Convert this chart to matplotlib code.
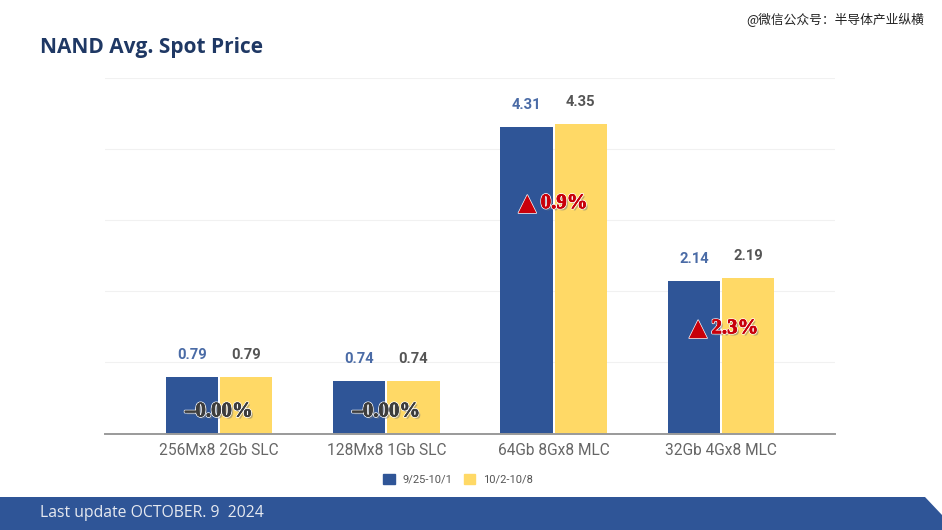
import matplotlib
matplotlib.use("Agg")
import matplotlib.pyplot as plt
import matplotlib.patheffects as pe
from matplotlib.patches import Polygon, Patch
import numpy as np

## === Data === ##

categories = ["256Mx8 2Gb SLC", "128Mx8 1Gb SLC", "64Gb 8Gx8 MLC", "32Gb 4Gx8 MLC"]
week_1 = [0.79, 0.74, 4.31, 2.14]
week_2 = [0.79, 0.74, 4.35, 2.19]
series_names = ["9/25-10/1", "10/2-10/8"]
changes = ["\u20130.00%", "\u20130.00%", "0.9%", "2.3%"]
change_up = [False, False, True, True]
change_y = [0.31, 0.31, 3.24, 1.48]
change_x_shift = [0.0, 0.0, 0.0, 0.02]
y_ticks = [0, 1, 2, 3, 4, 5]

## === Style === ##

W, H = 942, 530
BLUE = "#2f5597"
YELLOW = "#ffd966"
NAVY = "#1f3864"
RED = "#c8000a"

plt.rcParams["font.family"] = ["Roboto", "DejaVu Sans"]


def fx(px):
    return px / W


def fy(px):
    return 1 - px / H


fig = plt.figure(figsize=(W / 100, H / 100), dpi=100, facecolor="white")

## === Chart === ##

ax = fig.add_axes([fx(105), fy(433.5), fx(835) - fx(105), fy(78) - fy(433.5)])
ax.set_xlim(-0.68, 3.68)
ax.set_ylim(0, 5)

x = np.arange(len(categories))
bar_w = 0.312
gap = 0.006

bars_1 = ax.bar(x - bar_w / 2 - gap, week_1, bar_w, color=BLUE, zorder=3)
bars_2 = ax.bar(x + bar_w / 2 + gap, week_2, bar_w, color=YELLOW, zorder=3)

for rect, value in zip(bars_1, week_1):
    ax.annotate(f"{value:.2f}", (rect.get_x() + rect.get_width() / 2, value),
                xytext=(0, 16), textcoords="offset points", ha="center", va="center",
                fontsize=10.6, fontweight="bold", color="#4a6ba6")
for rect, value in zip(bars_2, week_2):
    ax.annotate(f"{value:.2f}", (rect.get_x() + rect.get_width() / 2, value),
                xytext=(0, 16), textcoords="offset points", ha="center", va="center",
                fontsize=10.6, fontweight="bold", color="#555555")

for i, label in enumerate(changes):
    color = RED if change_up[i] else "#3d3d3d"
    shift = 7.5 if change_up[i] else 0
    ax.annotate(label, (x[i] + change_x_shift[i], change_y[i]), xytext=(shift, 0),
                textcoords="offset points", ha="center", va="center",
                fontsize=15, fontweight="bold", zorder=5, family="Liberation Serif",
                color=color,
                path_effects=[
                    pe.SimplePatchShadow(offset=(1.5, -1.5), shadow_rgbFace="#777777", alpha=0.5),
                    pe.withStroke(linewidth=1.6, foreground="white"),
                    pe.withStroke(linewidth=0.5, foreground=color),
                ])
    if change_up[i]:
        ax.annotate("\u25b2", (x[i] + change_x_shift[i], change_y[i]), xytext=(-19, 0),
                    textcoords="offset points", ha="center", va="center",
                    fontsize=17, zorder=5, family="DejaVu Sans", color=RED,
                    path_effects=[pe.withStroke(linewidth=1.0, foreground="white")])

ax.set_yticks(y_ticks)
ax.set_yticklabels([])
ax.tick_params(axis="y", length=0)
ax.grid(axis="y", color="#f1f1f1", linewidth=0.8, zorder=0)
ax.set_axisbelow(True)

ax.set_xticks(x)
ax.set_xticklabels(categories, fontsize=11.2, color="#666666")
ax.tick_params(axis="x", length=0, pad=7)

for side in ["top", "left", "right"]:
    ax.spines[side].set_visible(False)
ax.spines["bottom"].set_color("#9a9a9a")
ax.spines["bottom"].set_linewidth(1.4)
ax.spines["bottom"].set_zorder(4)

handles = [Patch(color=BLUE, label=series_names[0]), Patch(color=YELLOW, label=series_names[1])]
fig.legend(handles=handles, loc="center", bbox_to_anchor=(fx(458), fy(479)), ncols=2,
           frameon=False, fontsize=8, labelcolor="#555555", handlelength=1.05, handleheight=1.05,
           handletextpad=0.7, columnspacing=1.0)

## === Page furniture === ##

fig.text(fx(40), fy(47), "NAND Avg. Spot Price", fontsize=15, fontweight="bold",
         family="Open Sans", color=NAVY, ha="left", va="center")

fig.text(fx(924), fy(20), "@微信公众号：半导体产业纵横", fontsize=9.2, color="#222222",
         family=["Noto Sans CJK SC", "DejaVu Sans"], ha="right", va="center")

banner = Polygon([[fx(0), fy(497)], [fx(925), fy(497)], [fx(942), fy(515)], [fx(942), fy(530)], [fx(0), fy(530)]],
                 closed=True, transform=fig.transFigure, facecolor=BLUE, edgecolor="none")
fig.add_artist(banner)

fig.text(fx(40), fy(513), "Last update OCTOBER. 9  2024", fontsize=11.3, family="Open Sans",
         color="#e6e9f0", ha="left", va="center")

fig.savefig("out.png", dpi=100)
